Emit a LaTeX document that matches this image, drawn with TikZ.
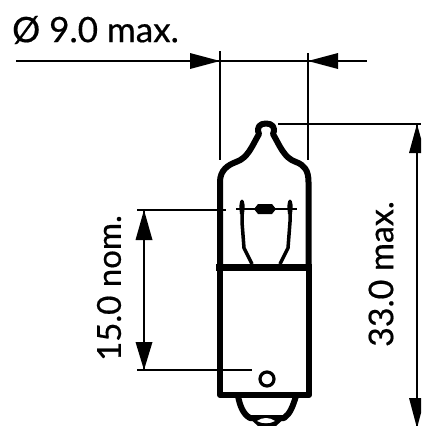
\documentclass[tikz,border=0pt]{standalone}
\usepackage{fontspec}
\setmainfont[FakeBold=0.5]{Lato}
\begin{document}
\begin{tikzpicture}[x=1pt,y=-1pt,
  wall/.style={line width=6pt,line join=round},
  wire/.style={line width=3.5pt,line join=round},
  thin dim/.style={line width=1.2pt},
  tip/.style={fill=black,draw=none},
  lbl/.style={font=\fontsize{35}{37}\selectfont,inner sep=0pt}]
\useasboundingbox (0,0) rectangle (421,426);
\clip (0,0) rectangle (421,426);
% coordinates
\coordinate (a1) at (16,61); \coordinate (a2) at (367,61);
\coordinate (e1) at (220,61); \coordinate (e2) at (308,61);
\coordinate (t1) at (144,210); \coordinate (t2) at (144,370);
\coordinate (h1) at (417,124); \coordinate (h2) at (417,428);
% top dimension
\draw[thin dim] (a1) -- (a2);
\draw[thin dim] (220,51) -- (220,160);
\draw[thin dim] (308,53) -- (308,160);
\fill[tip] (e1) -- (190,53) -- (190,69) -- cycle;
\fill[tip] (e2) -- (338,53) -- (338,69) -- cycle;
\node[lbl,anchor=west] (d) at (12,30) {Ø 9.0 max.};
% 15 dimension
\draw[thin dim] (137,210) -- (226,210);
\draw[thin dim] (137,370) -- (252,370);
\draw[thin dim] (t1) -- (t2);
\fill[tip] (t1) -- (135.5,240) -- (152.5,240) -- cycle;
\fill[tip] (t2) -- (135.5,342) -- (152.5,342) -- cycle;
\node[lbl,rotate=90,font=\fontsize{33}{35}\selectfont] (n) at (109,288) {15.0 nom.};
% 33 dimension
\draw[thin dim] (278,124) -- (421,124);
\draw[thin dim] (h1) -- (h2);
\fill[tip] (h1) -- (409,153) -- (425,153) -- cycle;
\fill[tip] (h2) -- (409,398) -- (425,398) -- cycle;
\node[lbl,rotate=90,font=\fontsize{34}{36}\selectfont] (m) at (381,274) {33.0 max.};
% bulb
\draw[wall] (220,266) -- (220,182)
  .. controls (220,170) and (228,165) .. (236,162)
  .. controls (248,158) and (252,146) .. (259,134)
  .. controls (256,127) and (260,123.5) .. (266,123.5)
  .. controls (272,123.5) and (276,127) .. (273,134)
  .. controls (280,146) and (284,158) .. (296,162)
  .. controls (304,165) and (308.5,170) .. (308.5,182)
  -- (308.5,266);
\fill[white] (266,129) circle[radius=1.8];
\draw[wall] (220,266) -- (220,395) -- (309,395) -- (309,266);
\draw[line width=7pt] (216,267) -- (312,267);
% nipple
\fill (247,416) -- (258,426) -- (276,426) -- (287,416) -- cycle;
\draw[wall] (238,396) .. controls (240,406) and (243,414) .. (250,418)
  -- (284,418) .. controls (290,414) and (293,406) .. (296,396);
\fill[white] (257,421) .. controls (262,417) and (270,417) .. (275,421)
  .. controls (270,424) and (262,424) .. (257,421) -- cycle;
% filament
\draw[line width=1.8pt] (236,209) -- (297,209);
\fill (254,209) -- (258,204) -- (272,204) -- (276,209) -- (272,214) -- (258,214) -- cycle;
\draw[wire] (242,203) -- (242,222) -- (244,248) -- (252,264);
\draw[wire] (290,203) -- (290,222) -- (288,248) -- (280,264);
\fill (242,199.5) .. controls (245,199.5) and (245,208) .. (244,214) -- (240,214) .. controls (239,208) and (239,199.5) .. (242,199.5) -- cycle;
\fill (290,199.5) .. controls (293,199.5) and (293,208) .. (292,214) -- (288,214) .. controls (287,208) and (287,199.5) .. (290,199.5) -- cycle;
% pin
\node[circle,draw,line width=3.2pt,minimum size=14pt,inner sep=0pt] (pin) at (267,379) {};
\end{tikzpicture}
\end{document}
